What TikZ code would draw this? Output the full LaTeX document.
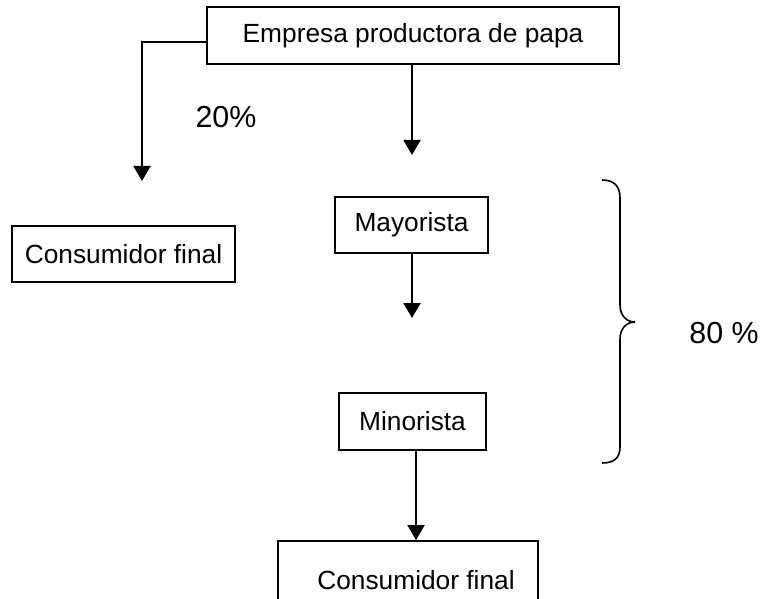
\documentclass[tikz,border=0pt]{standalone}
\usepackage{fontspec}
\setmainfont{Liberation Sans}
\usetikzlibrary{arrows.meta}
\begin{document}
\begin{tikzpicture}[x=0.5pt,y=-0.5pt,
  every node/.style={font=\fontsize{13.15}{15}\selectfont},
  box/.style={draw,line width=0.9pt,inner sep=0pt,anchor=center},
  arr/.style={line width=0.95pt,-{Triangle[width=8.5pt,length=7.5pt]}},
  lbl/.style={inner sep=0pt,anchor=center,font=\fontsize{15.2}{17}\selectfont}]
\useasboundingbox (0,0) rectangle (763,598);
\node[box,minimum width=206pt,minimum height=28.5pt] (top) at (413,35.5) {Empresa productora de papa};
\node[box,minimum width=76.5pt,minimum height=28pt] (may) at (411.5,225) {Mayorista\hspace{4.5pt}};
\node[box,minimum width=111.5pt,minimum height=28pt] (cl) at (123.5,254) {Consumidor final\hspace{5pt}};
\node[box,minimum width=73.5pt,minimum height=28.5pt] (min) at (412.5,421.5) {Minorista};
\node[box,minimum width=130pt,minimum height=39pt] (cb) at (408,580) {\hspace{8pt}Consumidor final};
\node[lbl] (p20) at (226,117) {20\%};
\node[lbl] (p80) at (724,333) {80 \%};
\coordinate (lstart) at (207,42);
\coordinate (lend) at (142,181);
\coordinate (cend) at (412,155);
\coordinate (mend) at (412,318);
\draw[arr] (lstart) -| (lend);
\draw[arr] (top.south -| cend) -- (cend);
\draw[arr] (may.south -| mend) -- (mend);
\draw[arr] (min.south -| 416,0) -- (cb.north -| 416,0);
\draw[line width=0.8pt] (602,180) .. controls (614,180) and (620,186) .. (620,198) -- (620,305) .. controls (620,315) and (626,322) .. (635,322) .. controls (626,322) and (620,329) .. (620,339) -- (620,447) .. controls (620,458) and (614,463) .. (602,463);
\end{tikzpicture}
\end{document}
